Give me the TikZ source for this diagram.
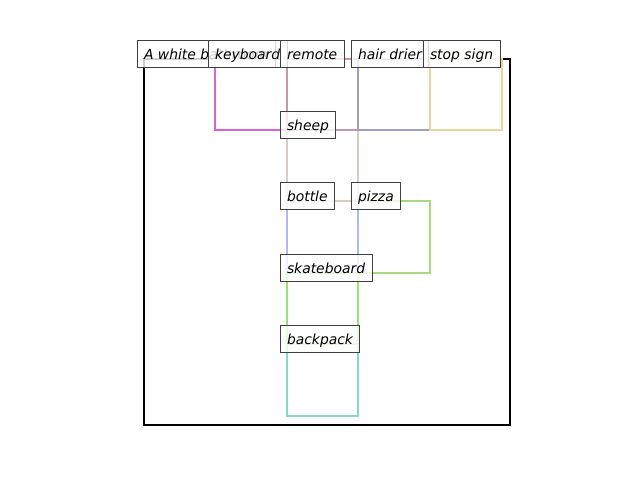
\documentclass[tikz,border=0pt]{standalone}
\usepackage{fontspec}
\setmainfont{DejaVu Sans}
\definecolor{ckeyboard}{HTML}{D862D6}
\definecolor{cremote}{HTML}{C497AB}
\definecolor{chair}{HTML}{A09CC8}
\definecolor{cstop}{HTML}{E4D8A0}
\definecolor{csheep}{HTML}{D6CEC6}
\definecolor{cbottle}{HTML}{B0BAF0}
\definecolor{cpizza}{HTML}{A8DA80}
\definecolor{cskate}{HTML}{98E078}
\definecolor{cback}{HTML}{88D8C8}
\begin{document}
\begin{tikzpicture}[x=0.72pt,y=-0.72pt,
  bbox/.style={line width=1.6pt, line join=miter},
  lbl/.style={anchor=text, draw=black!75, line width=0.7pt, fill=white, fill opacity=0.8, text opacity=1,
    inner xsep=5pt, inner ysep=3.8pt, text height=9.3pt, text depth=2.4pt, font=\itshape\fontsize{10pt}{12pt}\selectfont}]
\useasboundingbox (0,0) rectangle (640,480);
% bounding boxes
\draw[bbox, line width=1.8pt, black] (144,59) rectangle (510,425);
\draw[bbox, cpizza] (358,201) rectangle (430,273);
\draw[bbox, cbottle] (287,201) rectangle (358,273);
\draw[bbox, csheep] (287,130) rectangle (358,201);
\draw[bbox, ckeyboard] (215,59) rectangle (287,130);
\draw[bbox, cremote] (287,59) rectangle (358,130);
\draw[bbox, chair] (358,59) rectangle (430,130);
\draw[bbox, cstop] (430,59) rectangle (502,130);
\draw[bbox, cback] (287,344) rectangle (358,416);
\draw[bbox, cskate] (287,273) rectangle (358,344);
% labels
\node[lbl] (caption) at (144,59) {A white bathroom};
\node[lbl] (keyboard) at (215,59) {keyboard};
\node[lbl] (remote) at (287,59) {remote};
\node[lbl] (hair) at (358,59) {hair drier};
\node[lbl] (stop) at (430,59) {stop sign};
\node[lbl] (sheep) at (287,130) {sheep};
\node[lbl] (bottle) at (287,201) {bottle};
\node[lbl] (pizza) at (358,201) {pizza};
\node[lbl] (skate) at (287,273) {skateboard};
\node[lbl] (back) at (287,344) {backpack};
\end{tikzpicture}
\end{document}
